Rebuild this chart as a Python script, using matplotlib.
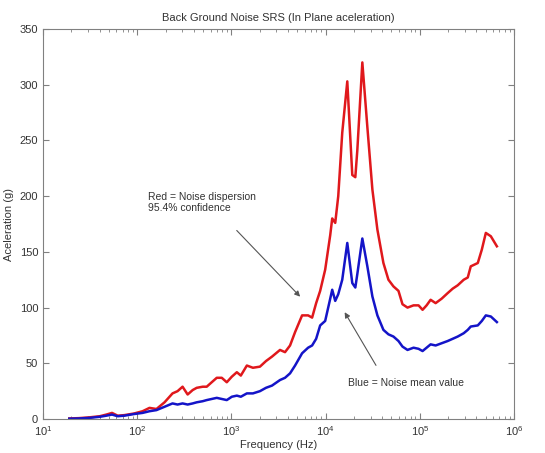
import numpy as np
import matplotlib
matplotlib.use("Agg")
import matplotlib.pyplot as plt
from matplotlib.ticker import LogLocator, NullFormatter

# frequency grid (Hz)
freq = [19, 24, 31, 40, 47, 54, 62, 73, 93, 114, 135, 160, 195, 237, 268, 303,
        343, 388, 428, 496, 547, 618, 699, 790, 893, 1010, 1142, 1259, 1459,
        1692, 2009, 2328, 2698, 3282, 3710, 4195, 4743, 5630, 6523, 7195, 7940,
        8760, 9900, 11200, 11760, 12660, 13630, 15030, 17000, 19210, 20690,
        21720, 24560, 27770, 31400, 35490, 41120, 46490, 52560, 59430, 65550,
        74130, 85900, 97100, 107100, 118200, 130400, 147400, 170800, 197900,
        223800, 252900, 293000, 323400, 348000, 413200, 456000, 503000,
        568600, 658900]

# red = dispersion (95.4%)
red = [0.5, 0.8, 1.5, 2.5, 4, 5.5, 3, 3.5, 5, 7, 10, 9, 15, 23, 25, 29,
       22, 26, 28, 29, 29, 33, 37, 37, 33, 38, 42, 39, 48,
       46, 47, 52, 56, 62, 60, 66, 78, 93, 93, 91, 104,
       115, 134, 165, 180, 176, 200, 257, 303, 219, 217,
       241, 320, 262, 206, 170, 140, 125, 119, 115, 103,
       100, 102, 102, 98, 102, 107, 104, 108, 113,
       117, 120, 125, 127, 137, 140, 152, 167,
       164, 155]

# blue = mean value
blue = [0.3, 0.5, 1.0, 2, 3, 4, 2.5, 3, 4.5, 5.5, 7, 8, 11, 14, 13, 14,
        13, 14, 15, 16, 17, 18, 19, 18, 17, 20, 21, 20, 23,
        23, 25, 28, 30, 35, 37, 41, 48, 59, 64, 66, 72,
        84, 88, 108, 116, 106, 112, 125, 158, 122, 118,
        130, 162, 137, 110, 93, 80, 76, 74, 70, 65,
        62, 64, 63, 61, 64, 67, 66, 68, 70,
        72, 74, 77, 80, 83, 84, 88, 93,
        92, 87]

plt.rcParams['font.family'] = ['Liberation Sans', 'DejaVu Sans']

fig = plt.figure(figsize=(5.45, 4.53), dpi=100)
ax = fig.add_axes([0.079, 0.075, 0.864, 0.861])

ax.plot(freq, red, color='#e0181c', lw=1.8)
ax.plot(freq, blue, color='#1414c8', lw=1.8)

ax.set_xscale('log')
ax.set_xlim(10, 1e6)
ax.set_ylim(0, 350)
ax.set_yticks(np.arange(0, 351, 50))
ax.xaxis.set_minor_locator(LogLocator(base=10, subs=np.arange(2, 10), numticks=20))
ax.xaxis.set_minor_formatter(NullFormatter())

for s in ax.spines.values():
    s.set_color('#808080')
    s.set_linewidth(0.8)
ax.tick_params(which='both', direction='in', top=True, right=True,
               colors='#808080', labelcolor='#333333', labelsize=8)
ax.tick_params(which='major', length=4)
ax.tick_params(which='minor', length=2)

ax.set_title('Back Ground Noise SRS (In Plane aceleration)', fontsize=8, color='#333333', pad=6)
ax.set_xlabel('Frequency (Hz)', fontsize=8, color='#333333', labelpad=2)
ax.set_ylabel('Aceleration (g)', fontsize=8, color='#333333', labelpad=4)

arrow = dict(arrowstyle='-|>', color='#555555', lw=0.8, mutation_scale=8)
ax.text(131, 204, 'Red = Noise dispersion\n95.4% confidence', fontsize=7.5,
        color='#333333', va='top', ha='left', linespacing=1.2)
ax.annotate('', xy=(5630, 108), xytext=(1087, 171), arrowprops=arrow)
ax.text(17400, 32, 'Blue = Noise mean value', fontsize=7.5, color='#333333',
        va='center', ha='left')
ax.annotate('', xy=(15400, 98), xytext=(35500, 46), arrowprops=arrow)

fig.savefig('out.png', dpi=100)
